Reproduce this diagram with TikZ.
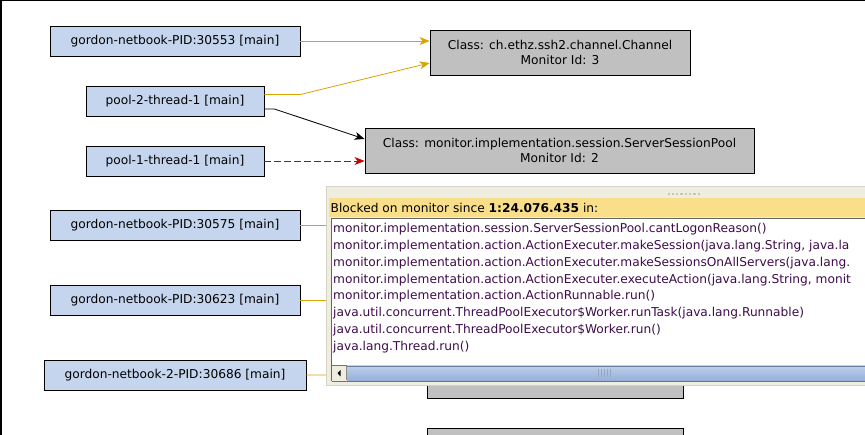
\documentclass[tikz,border=0pt]{standalone}
\usepackage{fontspec}
\setmainfont{DejaVu Sans}
\usetikzlibrary{arrows.meta}
\definecolor{thr}{RGB}{197,213,238}
\definecolor{mon}{RGB}{192,192,192}
\definecolor{gold}{RGB}{216,164,0}
\definecolor{dred}{RGB}{200,0,0}
\definecolor{popbg}{RGB}{239,237,224}
\definecolor{popedge}{RGB}{214,211,196}
\definecolor{hdr}{RGB}{250,223,138}
\definecolor{stk}{RGB}{62,12,74}
\definecolor{sbtop}{RGB}{188,207,235}
\definecolor{sbbot}{RGB}{150,176,218}
\definecolor{sbedge}{RGB}{105,128,165}
\definecolor{grip}{RGB}{200,198,186}
\tikzset{
  thread/.style={draw=black, line width=0.9pt, fill=thr, rectangle, inner sep=0pt, minimum height=30pt, font=\fontsize{12.2}{14}\selectfont},
  monbox/.style={draw=black, line width=0.9pt, fill=mon, rectangle, inner sep=0pt, minimum height=45pt, align=center, font=\fontsize{12.2}{15}\selectfont},
  tip/.style={-{Stealth[length=10pt,width=8pt,inset=3pt]}},
  conn/.style={line width=0.8pt},
  stackline/.style={anchor=west, inner sep=0pt, text=stk, font=\fontsize{12.2}{14}\selectfont},
}
\begin{document}
\begin{tikzpicture}[x=1pt,y=-1pt]
\clip (0,0) rectangle (865,435);
\fill[white] (0,0) rectangle (865,435);
\draw[line width=1.5pt] (0.75,435) -- (0.75,0.75) -- (865,0.75);

% thread nodes
\node[thread, minimum width=250pt] (n1) at (175,41) {gordon-netbook-PID:30553 [main]};
\node[thread, minimum width=178pt] (n2) at (175,101) {pool-2-thread-1 [main]};
\node[thread, minimum width=178pt] (n3) at (175,161) {pool-1-thread-1 [main]};
\node[thread, minimum width=250pt] (n4) at (175,225) {gordon-netbook-PID:30575 [main]};
\node[thread, minimum width=250pt] (n5) at (175,300) {gordon-netbook-PID:30623 [main]};
\node[thread, minimum width=262pt] (n6) at (175,375) {gordon-netbook-2-PID:30686 [main]};

% monitor nodes
\node[monbox, minimum width=260pt] (A) at (560,52.5) {Class: ch.ethz.ssh2.channel.Channel\\Monitor Id: 3};
\node[monbox, minimum width=389pt] (B) at (559.5,150.5) {Class: monitor.implementation.session.ServerSessionPool\\Monitor Id: 2};
\node[monbox, minimum width=256pt] (C) at (555,375.5) {};
\node[monbox, minimum width=256pt] (D) at (555,450.5) {};
\coordinate (h4) at (420,225);
\coordinate (h5) at (420,300);

% connectors
\draw[conn, gold, tip] (n1.east) -- (A.west |- n1.east);
\draw[conn, gold, tip] ([yshift=6.5pt]n2.east) -- ++(36,0) -- ([yshift=-10.5pt]A.west);
\draw[conn, black, tip] ([yshift=-8pt]n2.east) -- ++(10,0) -- ([yshift=11.5pt]B.west);
\draw[conn, dred, tip, dash pattern=on 7pt off 3pt] (n3.east) -- (B.west |- n3.east);
\draw[conn, gold] (n4.east) -- (h4);
\draw[conn, gold] (n5.east) -- (h5);
\draw[conn, gold, tip] (n6.east) -- (C.west);

% popup
\draw[popedge, fill=popbg] (326.5,186.5) rectangle (875,385);
\foreach \i in {0,...,7} {
  \fill[grip] (667.5+4.3*\i,193) rectangle ++(2.2,2.2);
}
\fill[hdr] (329,198) rectangle (875,217.5);
\node[anchor=west, inner sep=0pt, font=\fontsize{12.2}{14}\selectfont] (hd) at (330.5,207.5) {Blocked on monitor since \textbf{1:24.076.435} in:};
\fill[white] (331,219) rectangle (875,365.5);
\draw[black!60, line width=1pt] (331.5,381) -- (331.5,218.8) -- (875,218.8);
\node[stackline] (p1) at (333,229) {monitor.implementation.session.ServerSessionPool.cantLogonReason()};
\node[stackline] (p2) at (333,245.9) {monitor.implementation.action.ActionExecuter.makeSession(java.lang.String, java.la};
\node[stackline] (p3) at (333,262.8) {monitor.implementation.action.ActionExecuter.makeSessionsOnAllServers(java.lang.};
\node[stackline] (p4) at (333,279.7) {monitor.implementation.action.ActionExecuter.executeAction(java.lang.String, monit};
\node[stackline] (p5) at (333,296.6) {monitor.implementation.action.ActionRunnable.run()};
\node[stackline] (p6) at (333,313.5) {java.util.concurrent.ThreadPoolExecutor\$Worker.runTask(java.lang.Runnable)};
\node[stackline] (p7) at (333,330.4) {java.util.concurrent.ThreadPoolExecutor\$Worker.run()};
\node[stackline] (p8) at (333,347.3) {java.lang.Thread.run()};
% scrollbar
\draw[black!55] (331.5,365.5) -- (875,365.5);
\fill[popbg] (332,366) rectangle (346.5,380.5);
\draw[black!45] (346.5,366) -- (346.5,380.5);
\fill[black] (337.5,373.2) -- (340.5,370) -- (340.5,376.4) -- cycle;
\shade[top color=sbtop, bottom color=sbbot] (347,366) rectangle (875,380.5);
\draw[sbedge] (347,366.3) -- (875,366.3);
\draw[black!55] (331.5,381) -- (875,381);
\foreach \i in {0,...,4} {
  \draw[sbedge!70, line width=0.8pt] (598.5+3*\i,369.5) -- ++(0,7.5);
}
\end{tikzpicture}
\end{document}
